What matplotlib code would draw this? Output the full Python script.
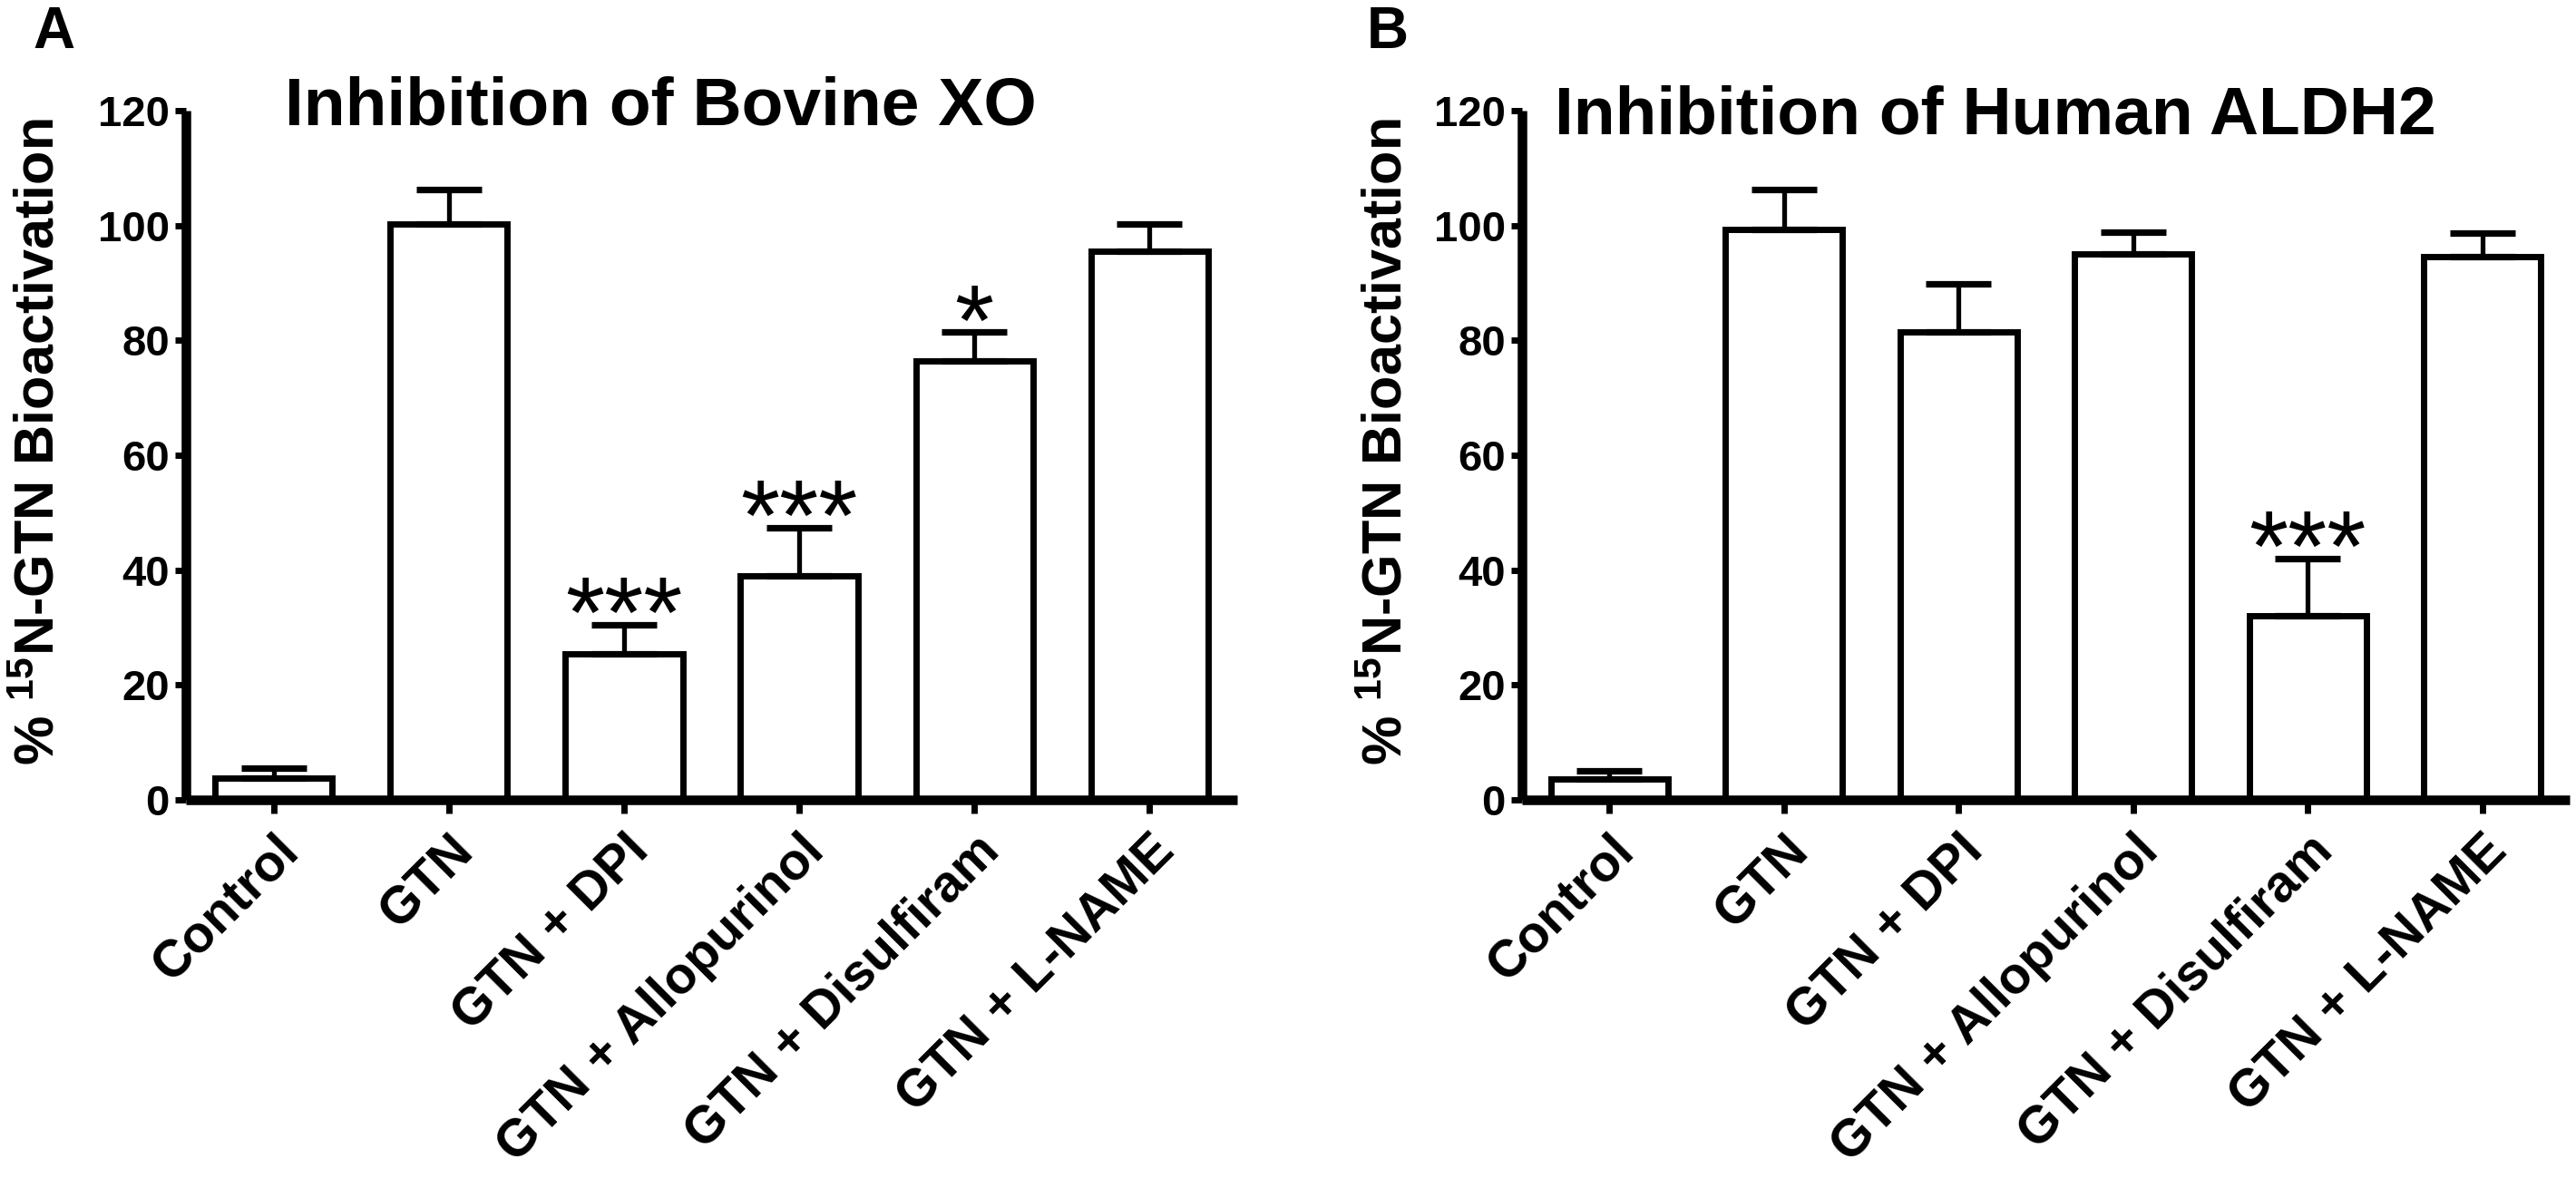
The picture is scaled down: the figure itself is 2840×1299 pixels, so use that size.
import numpy as np
from matplotlib import pyplot as plt

plt.rcParams['font.family'] = ['Liberation Sans', 'DejaVu Sans']
plt.rcParams['font.weight'] = 'bold'
plt.rcParams['mathtext.fontset'] = 'custom'
plt.rcParams['mathtext.rm'] = 'Liberation Sans:bold'
plt.rcParams['mathtext.bf'] = 'Liberation Sans:bold'
plt.rcParams['mathtext.it'] = 'Liberation Sans:bold'
plt.rcParams['mathtext.default'] = 'bf'

## data
categories = ['Control', 'GTN', 'GTN + DPI', 'GTN + Allopurinol',
              'GTN + Disulfiram', 'GTN + L-NAME']

xo_mean = [3.8, 100.2, 25.5, 39.0, 76.4, 95.6]
xo_err = [1.8, 6.0, 5.0, 8.4, 5.0, 4.7]
xo_sig = ['', '', '***', '***', '*', '']

aldh_mean = [3.6, 99.3, 81.4, 95.0, 32.0, 94.6]
aldh_err = [1.5, 7.0, 8.4, 3.8, 10.0, 4.1]
aldh_sig = ['', '', '', '', '***', '']

W, H = 2840, 1299
DPI = 200

def px_box(left, right, top, bottom):
    return [left / W, (H - bottom) / H, (right - left) / W, (bottom - top) / H]

def draw_panel(ax, mean, err, sig):
    x = np.arange(len(categories))
    ax.bar(x, mean, width=0.67, color='white', edgecolor='black',
           linewidth=2.5, zorder=2)
    ax.errorbar(x, mean, yerr=[np.zeros(len(err)), err], fmt='none',
                ecolor='black', elinewidth=1.9, capsize=12.8, capthick=2.6,
                zorder=3)
    for i in range(len(x)):
        if sig[i]:
            ax.annotate(sig[i], (x[i], mean[i] + err[i]), xytext=(0, -9),
                        textcoords='offset points', ha='center',
                        va='baseline', fontsize=40, fontweight='normal')
    ax.set_xlim(-0.5, 5.5)
    ax.set_ylim(0, 120)
    ax.set_yticks([0, 20, 40, 60, 80, 100, 120])
    ax.set_xticks(x)
    ax.set_xticklabels(categories, rotation=45, ha='right',
                       rotation_mode='anchor', fontsize=20.5, fontweight='bold')
    ax.tick_params(axis='y', labelsize=17, width=2.5, length=4.5, pad=2)
    ax.tick_params(axis='x', width=2.5, length=5.5, pad=5)
    for s in ['top', 'right']:
        ax.spines[s].set_visible(False)
    for s in ['left', 'bottom']:
        ax.spines[s].set_linewidth(3.8)
        ax.spines[s].set_capstyle('butt')
    for lab in ax.get_yticklabels():
        lab.set_fontweight('bold')


fig = plt.figure(figsize=(W / DPI, H / DPI), dpi=DPI)

axA = fig.add_axes(px_box(205, 1364, 122, 882))
draw_panel(axA, xo_mean, xo_err, xo_sig)
axB = fig.add_axes(px_box(1678, 2833, 122, 882))
draw_panel(axB, aldh_mean, aldh_err, aldh_sig)

ylab = '% $^{15}$N-GTN Bioactivation'
fig.text(44 / W, 1 - 487 / H, ylab, rotation=90, ha='center', va='center',
         fontsize=22, fontweight='bold')
fig.text(1530 / W, 1 - 487 / H, ylab, rotation=90, ha='center', va='center',
         fontsize=22, fontweight='bold')

fig.text(314 / W, 1 - 137 / H, 'Inhibition of Bovine XO', ha='left',
         va='baseline', fontsize=27, fontweight='bold')
fig.text(1714 / W, 1 - 148 / H, 'Inhibition of Human ALDH2', ha='left',
         va='baseline', fontsize=27, fontweight='bold')

fig.text(36 / W, 1 - 53 / H, 'A', ha='left', va='baseline', fontsize=23,
         fontweight='bold')
fig.text(1507 / W, 1 - 53 / H, 'B', ha='left', va='baseline', fontsize=23,
         fontweight='bold')

fig.savefig('out.png', dpi=DPI)
